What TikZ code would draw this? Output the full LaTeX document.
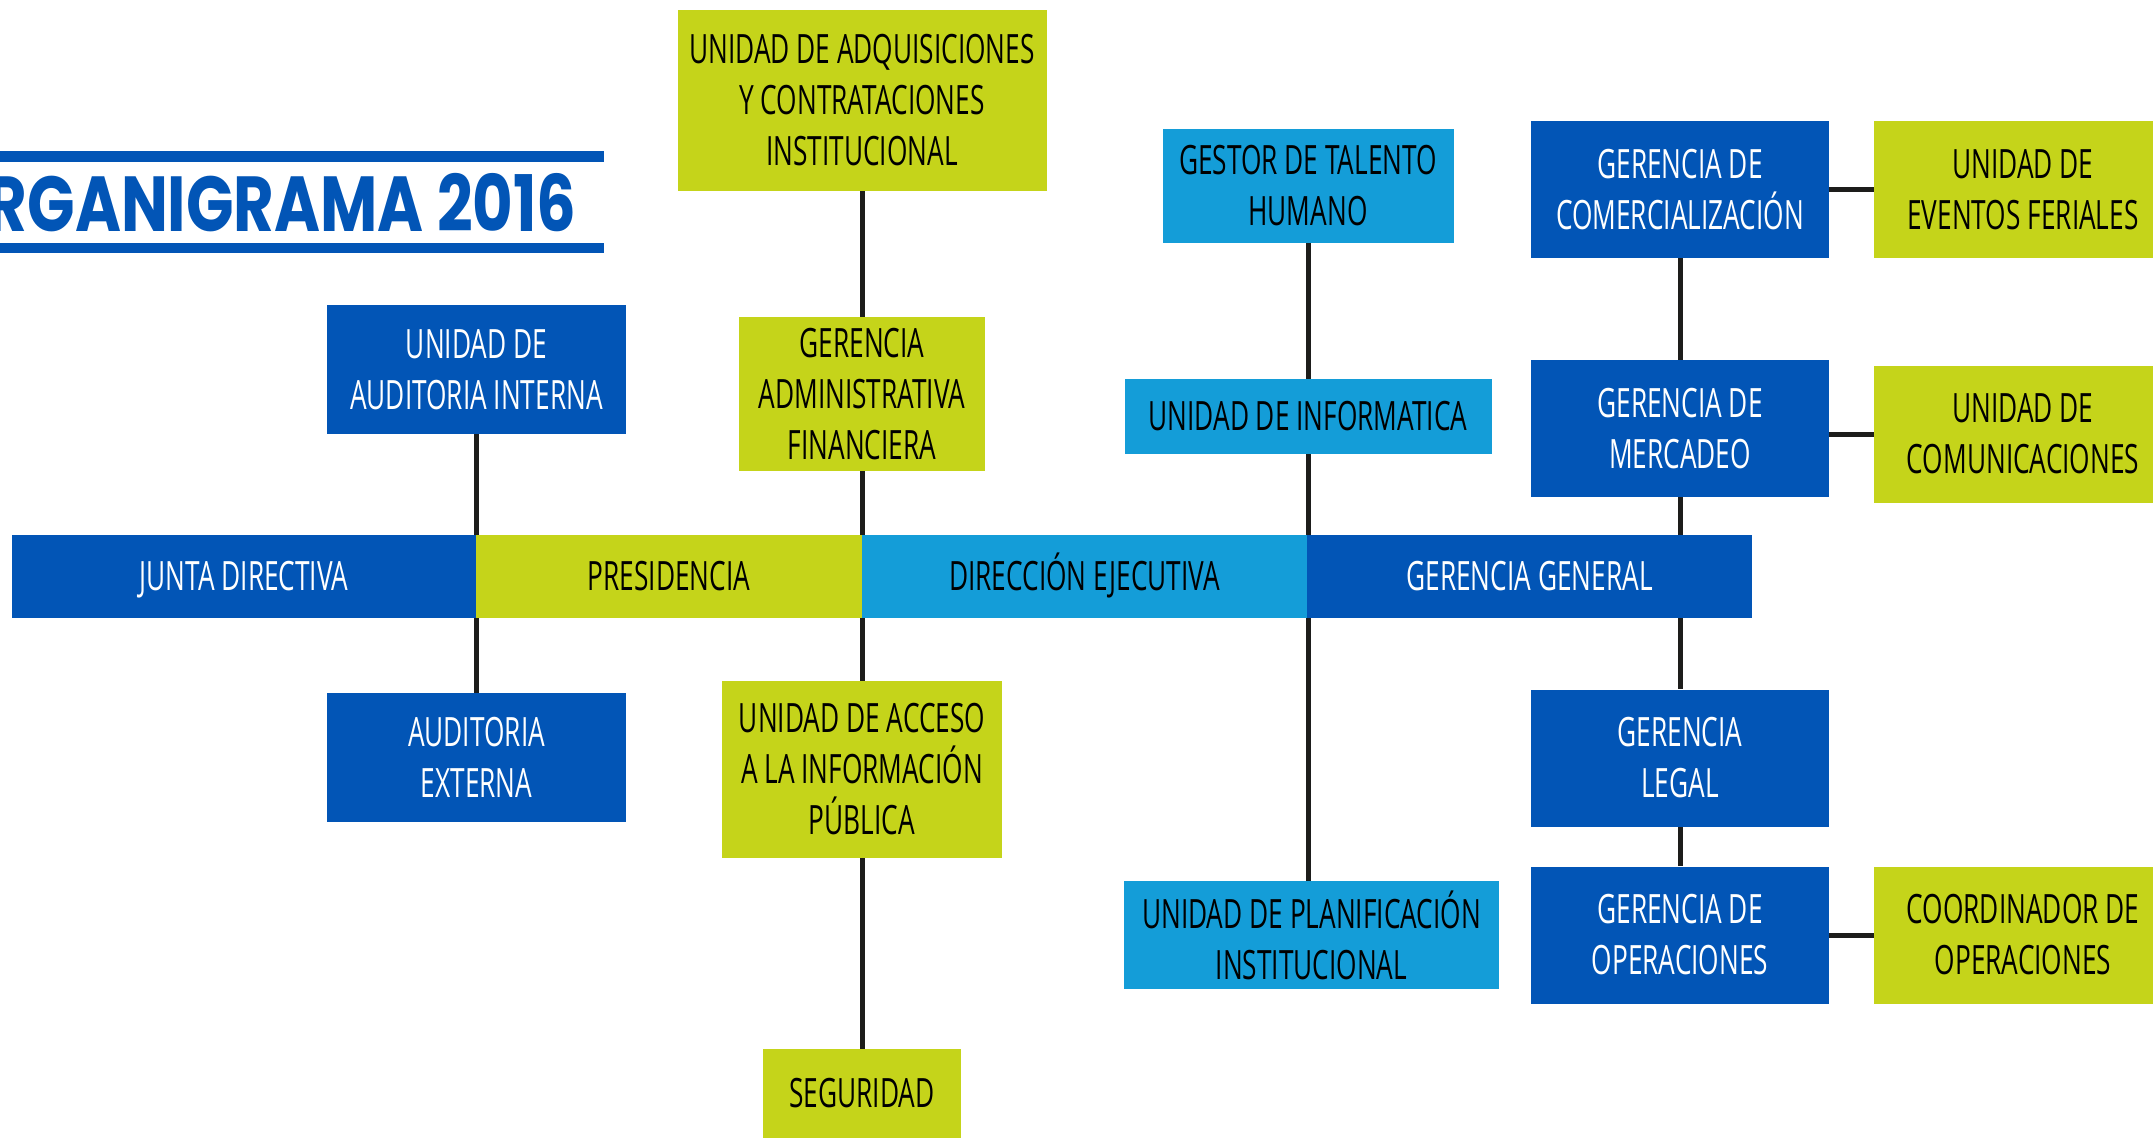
\documentclass[tikz,border=0pt]{standalone}
\usepackage{fontspec}
\setmainfont{Open Sans}[FakeStretch=0.65]
\newfontfamily\titlefont{Poppins}[FakeStretch=0.8]
\usetikzlibrary{backgrounds}

\definecolor{azul}{RGB}{2,85,182}
\definecolor{celeste}{RGB}{20,157,216}
\definecolor{verde}{RGB}{197,212,26}
\definecolor{linea}{RGB}{29,29,27}

\begin{document}
\begin{tikzpicture}[x=0.5pt,y=-0.5pt,
    dim/.style 2 args={minimum width=#1*0.5pt,minimum height=#2*0.5pt},
    caja/.style={rectangle,inner sep=0pt,align=center,font=\fontsize{20.2}{25.5}\selectfont},
    azulbox/.style={caja,fill=azul,text=white},
    celbox/.style={caja,fill=celeste,text=black},
    verdebox/.style={caja,fill=verde,text=black},
    fila/.style={text height=14.4pt,text depth=0pt},
    enlace/.style={draw=linea,line width=2.5pt}]
        \useasboundingbox (0,0) rectangle (2153,1140);
        \clip (0,0) rectangle (2153,1140);

        % titulo
        \fill[azul] (0,151) rectangle (604,162);
        \fill[azul] (0,243) rectangle (604,253);
        \node[anchor=east,inner sep=0pt,text=azul,font=\titlefont\bfseries\fontsize{39}{39}\selectfont] (titulo) at (577,203) {ORGANIGRAMA 2016};

        % fila principal
        \node[azulbox,fila,dim={464}{83}] (junta) at (244,576.5) {JUNTA DIRECTIVA};
        \node[verdebox,fila,dim={386}{83}] (pres) at (669,576.5) {PRESIDENCIA};
        \node[celbox,fila,dim={445}{83}] (direc) at (1084.5,576.5) {DIRECCIÓN EJECUTIVA};
        \node[azulbox,fila,dim={445}{83}] (gg) at (1529.5,576.5) {GERENCIA GENERAL};

        % auditorias
        \node[azulbox,dim={299}{129}] (audint) at (476.5,369.5) {UNIDAD DE\\AUDITORIA INTERNA};
        \node[azulbox,dim={299}{129}] (audext) at (476.5,757.5) {AUDITORIA\\EXTERNA};

        % columna presidencia
        \node[verdebox,dim={369}{181}] (adq) at (862,100.5) {UNIDAD DE ADQUISICIONES\\Y CONTRATACIONES\\INSTITUCIONAL};
        \node[verdebox,dim={246}{154}] (gaf) at (862,394) {GERENCIA\\ADMINISTRATIVA\\FINANCIERA};
        \node[verdebox,dim={280}{177}] (acceso) at (862,769.5) {UNIDAD DE ACCESO\\A LA INFORMACIÓN\\PÚBLICA};
        \node[verdebox,fila,dim={198}{89}] (seg) at (862,1093.5) {SEGURIDAD};

        % columna direccion
        \node[celbox,dim={291}{114}] (gestor) at (1308,186) {GESTOR DE TALENTO\\HUMANO};
        \node[celbox,fila,dim={367}{75}] (info) at (1308,416.5) {UNIDAD DE INFORMATICA};
        \node[celbox,dim={375}{108}] (planif) at (1311.5,935) {UNIDAD DE PLANIFICACIÓN\\INSTITUCIONAL};

        % columna gerencia general
        \node[azulbox,dim={298}{137}] (comerc) at (1680,189.5) {GERENCIA DE\\COMERCIALIZACIÓN};
        \node[azulbox,dim={298}{137}] (mercadeo) at (1680,428.5) {GERENCIA DE\\MERCADEO};
        \node[azulbox,dim={298}{137}] (legal) at (1680,758) {GERENCIA\\LEGAL};
        \node[azulbox,dim={298}{137}] (oper) at (1680,935) {GERENCIA DE\\OPERACIONES};

        \node[verdebox,dim={298}{137}] (eventos) at (2023,189.5) {UNIDAD DE\\EVENTOS FERIALES};
        \node[verdebox,dim={298}{137}] (comunic) at (2023,434) {UNIDAD DE\\COMUNICACIONES};
        \node[verdebox,dim={298}{137}] (coord) at (2023,935) {COORDINADOR DE\\OPERACIONES};

        \begin{scope}[on background layer]
            \draw[enlace] (audint) -- (audext);
            \draw[enlace] (adq) -- (gaf);
            \draw[enlace] (gaf) -- (acceso);
            \draw[enlace] (acceso) -- (seg);
            \draw[enlace] (gestor) -- (info);
            \draw[enlace] (info.south) -- (info.south |- planif.north);
            \draw[enlace] (comerc) -- (mercadeo);
            \draw[enlace] (mercadeo) -- (legal);
            \draw[enlace] (legal) -- (oper);
            \draw[enlace] (comerc) -- (eventos);
            \draw[enlace] (comunic.west -| mercadeo.east) -- (comunic.west);
            \draw[enlace] (oper) -- (coord);
        \end{scope}
    \end{tikzpicture}
\end{document}
